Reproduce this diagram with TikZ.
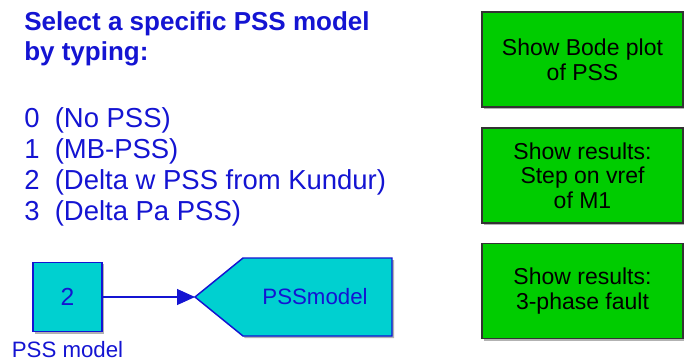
\documentclass[tikz,border=0pt]{standalone}
\usepackage{fontspec}
\setmainfont{Liberation Sans}
\usetikzlibrary{shadows,arrows.meta}
\definecolor{sblue}{RGB}{20,20,210}
\definecolor{scyan}{RGB}{0,208,208}
\definecolor{sgreen}{RGB}{0,204,0}
\begin{document}
\begin{tikzpicture}[x=0.75pt,y=-0.75pt,
  titletext/.style={anchor=base west, inner sep=0, text=sblue, font=\fontsize{19.5}{22.5}\selectfont\bfseries},
  listitem/.style={anchor=base west, inner sep=0, text=sblue, font=\fontsize{20.6}{23}\selectfont},
  sshadow/.style={drop shadow={shadow xshift=1.5pt, shadow yshift=-1.5pt, opacity=0.3, fill=black}},
  greenbox/.style={draw=black!80, line width=1.1pt, fill=sgreen, sshadow,
    minimum width=150.75pt, minimum height=71.25pt, inner sep=0, align=center,
    font=\fontsize{17.25}{18.5}\selectfont},
  cyanbox/.style={draw=sblue, line width=1.1pt, fill=scyan, sshadow,
    minimum width=52pt, minimum height=52pt, inner sep=0, text=sblue,
    font=\fontsize{18.5}{20}\selectfont},
  bluelabel/.style={inner sep=0, text=sblue, font=\fontsize{16.7}{20}\selectfont}
]
\useasboundingbox (0,0) rectangle (684,362);

\node[titletext] (t1) at (24,30) {Select a specific PSS model};
\node[titletext] (t2) at (24,60) {by typing:};

\node[listitem] (l0) at (24,127) {0\ \ (No PSS)};
\node[listitem] (l1) at (24,158) {1\ \ (MB-PSS)};
\node[listitem] (l2) at (24,189) {2\ \ (Delta w PSS from Kundur)};
\node[listitem] (l3) at (24,220) {3\ \ (Delta Pa PSS)};

\node[greenbox] (g1) at (582.5,59.5) {Show Bode plot\\of PSS};
\node[greenbox] (g2) at (582.5,175.5) {Show results:\\Step on vref\\of M1};
\node[greenbox] (g3) at (582.5,291) {Show results:\\3-phase fault};

\node[cyanbox] (src) at (67.5,297) {2};
\node[bluelabel] (srclabel) at (67.5,350) {PSS model};

\path[draw=sblue, line width=1.1pt, fill=scyan, sshadow]
  (195,297) -- (243,258) -- (392,258) -- (392,336) -- (243,336) -- cycle;
\coordinate (tip) at (195,297);
\node[bluelabel] (tag) at (315,297) {PSSmodel};

\draw[sblue, line width=0.8pt, -{Triangle[length=13.5pt, width=12pt]}] (src.east) -- (tip);
\end{tikzpicture}
\end{document}
